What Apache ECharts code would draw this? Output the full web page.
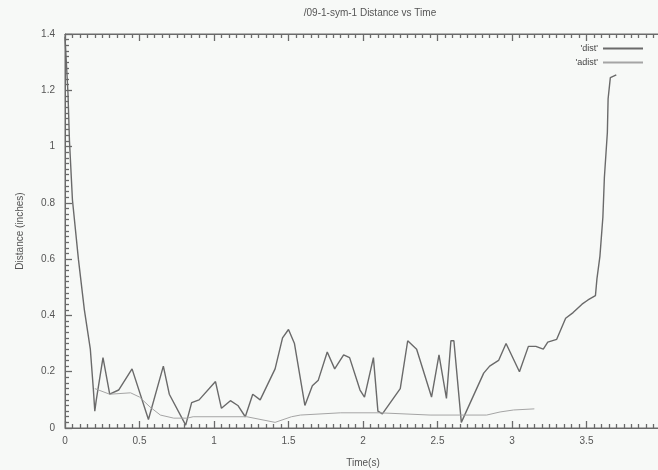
<!DOCTYPE html>
<html>
<head>
<meta charset="utf-8">
<script src="https://cdn.jsdelivr.net/npm/echarts@6/dist/echarts.min.js"></script>
<style>
html,body{margin:0;padding:0;background:#f7f9f7;}
#chart{width:658px;height:470px;}
</style>
</head>
<body>
<div id="chart"></div>
<script>
var titleText = "/09-1-sym-1 Distance vs Time";
var xName = "Time(s)";
var yName = "Distance (inches)";
var seriesNames = ["'dist'", "'adist'"];

var distTime = [0, 0.02, 0.03, 0.05, 0.09, 0.13, 0.17, 0.19, 0.20, 0.21, 0.255, 0.30, 0.36, 0.45, 0.56, 0.66, 0.70, 0.81, 0.85, 0.90, 1.01, 1.05, 1.11, 1.16, 1.21, 1.26, 1.31, 1.41, 1.46, 1.50, 1.54, 1.61, 1.66, 1.70, 1.76, 1.81, 1.87, 1.91, 1.98, 2.01, 2.07, 2.10, 2.13, 2.25, 2.30, 2.36, 2.46, 2.51, 2.56, 2.59, 2.61, 2.66, 2.81, 2.85, 2.91, 2.96, 3.05, 3.11, 3.16, 3.21, 3.24, 3.30, 3.36, 3.41, 3.47, 3.51, 3.56, 3.57, 3.59, 3.61, 3.62, 3.64, 3.645, 3.66, 3.70];
var distValue = [1.39, 1.19, 1.02, 0.81, 0.60, 0.42, 0.28, 0.14, 0.06, 0.10, 0.25, 0.12, 0.135, 0.21, 0.03, 0.22, 0.12, 0.01, 0.09, 0.10, 0.165, 0.07, 0.097, 0.08, 0.04, 0.12, 0.10, 0.21, 0.32, 0.35, 0.30, 0.08, 0.15, 0.17, 0.27, 0.21, 0.26, 0.25, 0.135, 0.11, 0.25, 0.06, 0.05, 0.14, 0.31, 0.28, 0.11, 0.26, 0.105, 0.31, 0.31, 0.02, 0.195, 0.22, 0.24, 0.30, 0.20, 0.29, 0.29, 0.28, 0.305, 0.315, 0.39, 0.41, 0.44, 0.455, 0.47, 0.53, 0.61, 0.75, 0.89, 1.05, 1.17, 1.245, 1.255];

var adistTime = [0.20, 0.30, 0.44, 0.50, 0.57, 0.64, 0.73, 0.82, 0.86, 1.22, 1.41, 1.52, 1.58, 1.85, 2.11, 2.45, 2.83, 2.92, 3.01, 3.15];
var adistValue = [0.14, 0.12, 0.125, 0.11, 0.075, 0.046, 0.035, 0.035, 0.04, 0.04, 0.02, 0.04, 0.046, 0.054, 0.054, 0.046, 0.046, 0.057, 0.064, 0.068];

function zip(a, b) { return a.map(function (v, i) { return [v, b[i]]; }); }

var textColor = '#555';
var axisColor = '#6a6a6a';
var font = 'Liberation Sans, Arial, sans-serif';

function tickAxis(extra) {
  var base = {
    axisLine: {show: true, onZero: false, lineStyle: {color: axisColor, width: 1}},
    axisTick: {show: true, inside: true, length: 7, lineStyle: {color: axisColor, width: 1.3}},
    minorTick: {show: true, splitNumber: 10, length: 4, lineStyle: {color: axisColor, width: 1.3}},
    splitLine: {show: false},
    minorSplitLine: {show: false}
  };
  for (var k in extra) base[k] = extra[k];
  return base;
}

var chart = echarts.init(document.getElementById('chart'), null, {renderer: 'canvas'});
chart.setOption({
  backgroundColor: '#f7f9f7',
  animation: false,
  title: {
    text: titleText, left: 365, top: 3, textAlign: 'center',
    textStyle: {fontSize: 10, fontWeight: 'normal', color: textColor, fontFamily: font}
  },
  legend: {
    orient: 'vertical', right: 10, top: 39, align: 'right',
    icon: 'rect', itemWidth: 40, itemHeight: 2, itemGap: 5,
    textStyle: {fontSize: 9, color: '#444', fontFamily: font},
    data: seriesNames
  },
  grid: {left: 65, top: 34, width: 596, height: 394, containLabel: false, outerBoundsMode: 'none',
         show: true, borderColor: axisColor, borderWidth: 1, backgroundColor: 'transparent'},
  xAxis: [tickAxis({
    type: 'value', min: 0, max: 4, interval: 0.5,
    name: xName, nameLocation: 'middle', nameGap: 30,
    nameTextStyle: {fontSize: 10, color: textColor, fontFamily: font},
    axisLabel: {fontSize: 10, color: textColor, margin: 8, fontFamily: font, showMaxLabel: false}
  }), tickAxis({
    type: 'value', min: 0, max: 4, interval: 0.5, position: 'top',
    axisLabel: {show: false}
  })],
  yAxis: tickAxis({
    type: 'value', min: 0, max: 1.4, interval: 0.2,
    name: yName, nameLocation: 'middle', nameGap: 40, nameRotate: 90,
    nameTextStyle: {fontSize: 10, color: textColor, fontFamily: font},
    axisLabel: {fontSize: 10, color: textColor, margin: 10, fontFamily: font}
  }),
  series: [{
    name: seriesNames[0], type: 'line', symbol: 'none',
    data: zip(distTime, distValue),
    lineStyle: {color: '#6a6a6a', width: 1.4},
    itemStyle: {color: '#6a6a6a'}
  }, {
    name: seriesNames[1], type: 'line', symbol: 'none',
    data: zip(adistTime, adistValue),
    lineStyle: {color: '#a5a5a5', width: 1},
    itemStyle: {color: '#a5a5a5'}
  }]
});
</script>
</body>
</html>
